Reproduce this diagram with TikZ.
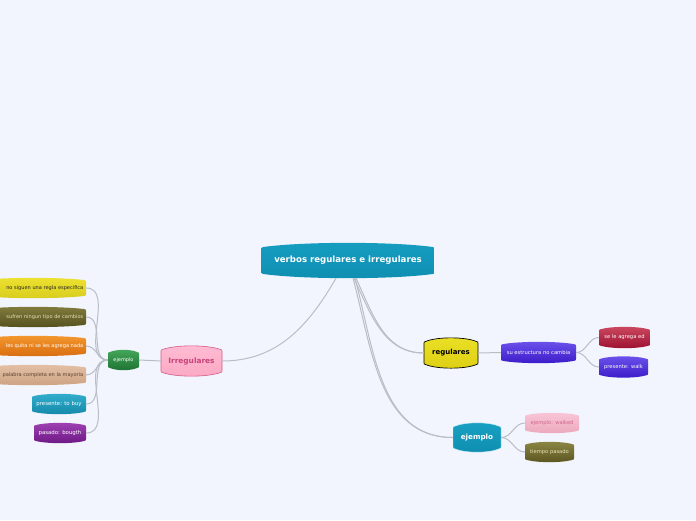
\documentclass[tikz,border=0pt]{standalone}
\usepackage{fontspec}
\setmainfont{DejaVu Sans}
\definecolor{bg}{HTML}{F2F5FD}
\definecolor{lnc}{HTML}{B9BDC7}
\definecolor{rootA}{HTML}{159DC0}\definecolor{rootB}{HTML}{0F8FB2}
\definecolor{regA}{HTML}{ECE026}\definecolor{regB}{HTML}{DCCF14}
\definecolor{purA}{HTML}{6D52EC}\definecolor{purB}{HTML}{3A1AC8}
\definecolor{redA}{HTML}{CC4860}\definecolor{redB}{HTML}{9C1030}
\definecolor{ejA}{HTML}{18A0C2}\definecolor{ejB}{HTML}{0E8EB0}
\definecolor{pkA}{HTML}{F8C6D6}\definecolor{pkB}{HTML}{EDA8BE}\definecolor{pkT}{HTML}{D0668C}
\definecolor{olA}{HTML}{8C8644}\definecolor{olB}{HTML}{5A5520}\definecolor{olT}{HTML}{E8E4B8}
\definecolor{irA}{HTML}{FFBCD3}\definecolor{irB}{HTML}{FBA8C4}\definecolor{irD}{HTML}{D65A88}\definecolor{irT}{HTML}{C8437A}
\definecolor{grA}{HTML}{44A85A}\definecolor{grB}{HTML}{1E7232}
\definecolor{yeA}{HTML}{EDE232}\definecolor{yeB}{HTML}{D8CC1C}
\definecolor{ol2A}{HTML}{827C3E}\definecolor{ol2B}{HTML}{54501E}\definecolor{ol2T}{HTML}{E4E0B4}
\definecolor{orA}{HTML}{F4982E}\definecolor{orB}{HTML}{D86C10}
\definecolor{tnA}{HTML}{E4C0A6}\definecolor{tnB}{HTML}{CCA282}\definecolor{tnT}{HTML}{5C4230}
\definecolor{tlA}{HTML}{34AECC}\definecolor{tlB}{HTML}{1488AA}
\definecolor{vpA}{HTML}{A040B4}\definecolor{vpB}{HTML}{6C1884}
\definecolor{ejD}{HTML}{CFEFF8}
\begin{document}
\begin{tikzpicture}[x=1pt,y=-1pt,
  lbl/.style={font=\fontsize{5.05}{6}\selectfont, inner sep=0pt}]
\newcommand\drum[9]{%
  \pgfmathsetmacro\dL{#2-#4/2}\pgfmathsetmacro\dR{#2+#4/2}%
  \pgfmathsetmacro\dT{#3-#5/2}\pgfmathsetmacro\dB{#3+#5/2}%
  \pgfmathsetmacro\dk{#5*0.13}%
  \path[top color=#6, bottom color=#7, #8]
    (\dL,\dT+\dk+1.5) .. controls (\dL,\dT+\dk) .. (\dL+2,\dT+\dk-0.6)
    .. controls (\dL+#4/4,\dT-\dk/3) and (\dR-#4/4,\dT-\dk/3) .. (\dR-2,\dT+\dk-0.6)
    .. controls (\dR,\dT+\dk) .. (\dR,\dT+\dk+1.5)
    -- (\dR,\dB-\dk-1.5) .. controls (\dR,\dB-\dk) .. (\dR-2,\dB-\dk+0.6)
    .. controls (\dR-#4/4,\dB+\dk/3) and (\dL+#4/4,\dB+\dk/3) .. (\dL+2,\dB-\dk+0.6)
    .. controls (\dL,\dB-\dk) .. (\dL,\dB-\dk-1.5) -- cycle;
  \node[inner sep=0pt, minimum width=#4pt, minimum height=#5pt, align=center] (#1) at (#2,#3) {#9};%
}
\useasboundingbox (0,0) rectangle (696,520);
\clip (0,0) rectangle (696,520);
\fill[bg] (0,0) rectangle (696,520);

% nodes
\drum{root}{348}{260.5}{173}{35}{rootA}{rootB}{}{\color{white}\fontsize{8.6}{10}\bfseries\selectfont verbos regulares e irregulares}
\drum{reg}{451}{353}{54}{30}{regA}{regB}{draw=black, line width=0.7pt}{\fontsize{7}{8}\bfseries\selectfont regulares}
\drum{estr}{538.5}{352.5}{75}{21}{purA}{purB}{}{\color{white}\fontsize{5.2}{6}\selectfont su estructura no cambia}
\drum{ed}{624.5}{337.5}{51}{21}{redA}{redB}{}{\color{white}\fontsize{5.2}{6}\selectfont se le agrega ed}
\drum{walk}{623.5}{367}{49}{21}{purA}{purB}{}{\color{white}\fontsize{5.2}{6}\selectfont presente: walk}
\drum{ejr}{477}{437.5}{48}{29}{ejA}{ejB}{draw=ejD, line width=0.4pt}{\color{white}\fontsize{7.2}{8}\bfseries\selectfont ejemplo}
\drum{walked}{552}{423}{54}{20}{pkA}{pkB}{}{\color{pkT}\fontsize{5.2}{6}\selectfont ejemplo: walked}
\drum{tp}{549.5}{452}{49}{20}{olA}{olB}{}{\color{olT}\fontsize{5.2}{6}\selectfont tiempo pasado}
\drum{irr}{191.5}{361}{61}{30}{irA}{irB}{draw=irD, line width=0.6pt}{\color{irT}\fontsize{7.4}{8}\bfseries\selectfont Irregulares}
\drum{ejl}{123.5}{360}{31}{20}{grA}{grB}{}{\color{white}\fontsize{5}{6}\selectfont ejemplo}

\drum{l1}{33}{288}{106}{20}{yeA}{yeB}{}{}
\node[lbl, anchor=east, text=black!85] (t1) at (83.5,288) {no siguen una regla especifica};
\drum{l2}{33}{317}{106}{20}{ol2A}{ol2B}{}{}
\node[lbl, anchor=east, text=ol2T] (t2) at (83.5,317) {sufren ningun tipo de cambios};
\drum{l3}{33}{346}{106}{20}{orA}{orB}{}{}
\node[lbl, anchor=east, text=white] (t3) at (83.5,346) {les quita ni se les agrega nada};
\drum{l4}{33}{375}{106}{20}{tnA}{tnB}{}{}
\node[lbl, anchor=east, text=tnT] (t4) at (83.5,375) {palabra completa en la mayoria};
\drum{l5}{59}{404}{54}{20}{tlA}{tlB}{}{\color{white}\fontsize{5.4}{6}\selectfont presente: to buy}
\drum{l6}{60}{433}{52}{20}{vpA}{vpB}{}{\color{white}\fontsize{5.4}{6}\selectfont pasado: bougth}

% connectors
\begin{scope}[line width=1pt, draw=lnc]
\draw ([xshift=-12pt]root.south) to[out=240,in=0] (irr.east);
\draw ([xshift=6pt]root.south) to[out=-65,in=180] (reg.west);
\draw ([xshift=8pt]root.south) to[out=-65,in=180] (reg.west);
\draw ([xshift=5pt]root.south) to[out=-75,in=180] (ejr.west);
\draw ([xshift=7pt]root.south) to[out=-75,in=180] (ejr.west);
\draw (reg.east) -- (estr.west);
\draw (estr.east) to[out=0,in=180] (ed.west);
\draw (estr.east) to[out=0,in=180] (walk.west);
\draw (ejr.east) to[out=0,in=180] (walked.west);
\draw (ejr.east) to[out=0,in=180] (tp.west);
\draw (irr.west) -- (ejl.east);
\foreach \n in {l1,l2,l3,l4,l5,l6}
  \draw (ejl.west) to[out=180,in=0] (\n.east);
\end{scope}
\end{tikzpicture}
\end{document}
